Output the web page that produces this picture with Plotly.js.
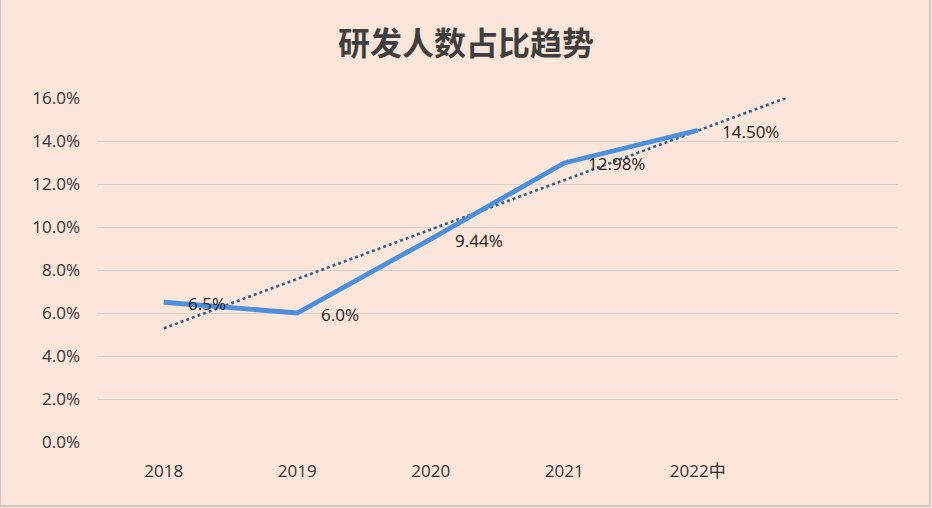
<!DOCTYPE html>
<html>
<head>
<meta charset="utf-8">
<script src="https://cdn.plot.ly/plotly-3.0.1.min.js"></script>
<style>
html,body{margin:0;padding:0;background:#FBE6D9;}
#chart{width:932px;height:508px;}
</style>
</head>
<body>
<div id="chart"></div>
<script>
// Data
const categories = ["2018", "2019", "2020", "2021", "2022中"];
const ratioValues = [6.5, 6.0, 9.44, 12.98, 14.5];
const ratioLabels = ["6.5%", "6.0%", "9.44%", "12.98%", "14.50%"];
const yTickVals = [0, 2, 4, 6, 8, 10, 12, 14, 16];
const yTickText = ["0.0%", "2.0%", "4.0%", "6.0%", "8.0%", "10.0%", "12.0%", "14.0%", "16.0%"];

const xIdx = categories.map((c, i) => i);

// Linear trendline (least squares) over the series, as Excel draws it
const n = ratioValues.length;
const mx = xIdx.reduce((a, b) => a + b, 0) / n;
const my = ratioValues.reduce((a, b) => a + b, 0) / n;
let sxy = 0, sxx = 0;
for (let i = 0; i < n; i++) { sxy += (xIdx[i] - mx) * (ratioValues[i] - my); sxx += (xIdx[i] - mx) ** 2; }
const slope = sxy / sxx;
const intercept = my - slope * mx;
const trendX = [0, 5];
const trendY = trendX.map(x => intercept + slope * x);

const traces = [
  {
    x: trendX, y: trendY, type: "scatter", mode: "lines",
    line: {color: "#2F5F8F", width: 2.6, dash: "dot"},
    hoverinfo: "skip", showlegend: false
  },
  {
    x: xIdx, y: ratioValues, type: "scatter", mode: "lines",
    line: {color: "#4A90DC", width: 4.8},
    showlegend: false
  }
];

const annotations = xIdx.map((x, i) => ({
  x: x, y: ratioValues[i], xref: "x", yref: "y",
  text: ratioLabels[i], showarrow: false,
  xanchor: "left", yanchor: "middle", xshift: 22, yshift: -1,
  font: {family: "Open Sans, Liberation Sans, sans-serif", size: 17, color: "#222222"}
}));

const layout = {
  width: 932, height: 508,
  paper_bgcolor: "#FBE6D9", plot_bgcolor: "#FBE6D9",
  margin: {l: 97, r: 34, t: 98, b: 66},
  title: {
    text: "<b>研发人数占比趋势</b>",
    x: 0.5, xanchor: "center", y: 0.913, yanchor: "middle",
    font: {family: "Noto Sans CJK SC, sans-serif", size: 32, color: "#3F3F3F"}
  },
  xaxis: {
    range: [-0.5, 5.5],
    tickvals: xIdx, ticktext: categories,
    showgrid: false, zeroline: false, showline: false,
    ticks: "", ticklabelstandoff: 17,
    tickfont: {family: "Open Sans, Liberation Sans, Noto Sans CJK SC, sans-serif", size: 17, color: "#333333"},
    fixedrange: true
  },
  yaxis: {
    range: [0, 16],
    tickvals: yTickVals, ticktext: yTickText,
    showgrid: true, gridcolor: "#D8D0CA", gridwidth: 1,
    zeroline: false, showline: false,
    ticks: "", ticklabelstandoff: 16,
    tickfont: {family: "Open Sans, Liberation Sans, sans-serif", size: 17, color: "#333333"},
    fixedrange: true
  },
  annotations: annotations,
  shapes: [
    {type: "rect", xref: "paper", yref: "paper", x0: -97/801, x1: 1 + 32/801, y0: -64/344, y1: 1 + 110/344,
     line: {color: "#CFC8C3", width: 2}, fillcolor: "rgba(0,0,0,0)", layer: "below"}
  ]
};

Plotly.newPlot("chart", traces, layout, {displayModeBar: false, staticPlot: true});
</script>
</body>
</html>
